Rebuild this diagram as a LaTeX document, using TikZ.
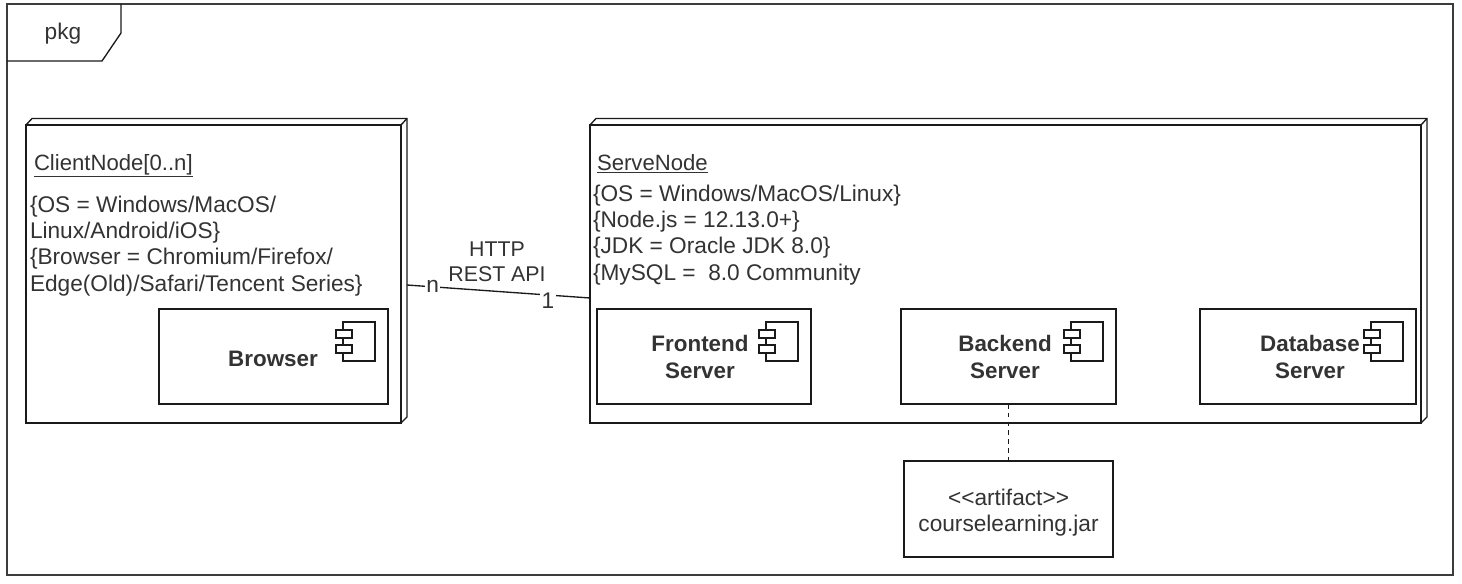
\documentclass[tikz,border=0pt]{standalone}
\usepackage{fontspec}
\setmainfont{Liberation Sans}
\usetikzlibrary{calc}
\definecolor{ink}{HTML}{1A1A1A}
\definecolor{txt}{HTML}{333333}
\tikzset{
  x=0.75pt,y=-0.75pt,
  every node/.style={inner sep=0pt,outer sep=0pt,text=txt,font=\fontsize{17}{19.7}\selectfont},
  line/.style={draw=ink,line width=1pt},
  comp/.style={draw=ink,line width=1pt,minimum width=#1*0.75pt,minimum height=71.25pt,fill=white},
  lbl/.style={align=left,anchor=north west},
  title/.style={font=\fontsize{16.8}{20}\selectfont\bfseries,align=center},
  mult/.style={fill=white,inner sep=1pt},
}
\newcommand{\nodebox}[5]{% name left top right bottom (front face)
  \draw[line,fill=white] (#2,#3) rectangle (#4,#5);
  \draw[line] (#2,#3) -- (#2+6,#3-6.5) -- (#4+6,#3-6.5) -- (#4+6,#5-6) -- (#4,#5);
  \draw[line] (#4,#3) -- (#4+6,#3-6.5);
}
\newcommand{\icon}[2]{% top-left of the icon body
  \draw[line,fill=white] (#1,#2) rectangle (#1+32,#2+39);
  \draw[line,fill=white] (#1-7,#2+8) rectangle (#1+9,#2+16);
  \draw[line,fill=white] (#1-7,#2+23) rectangle (#1+9,#2+31);
}
\begin{document}
\begin{tikzpicture}
\useasboundingbox (0,0) rectangle (1462,584);
\draw[line,draw=ink!85!white,line width=1.1pt] (7,4) rectangle (1453,575);
\draw[line] (7,61) -- (102,61) -- (121,33) -- (121,4);
\node (pkgname) at (63,34) {pkg};

\nodebox{client}{26}{125}{401}{423}
\nodebox{serve}{590}{125}{1421}{423}
\node[minimum width=285.75pt,minimum height=228.75pt] (client) at (216.5,270.5) {};
\node[minimum width=628.5pt,minimum height=228.75pt] (serve) at (1009,270.5) {};

\node[lbl,font=\fontsize{16.6}{19.7}\selectfont] (clientname) at (34,154) {\underline{ClientNode[0..n]}};
\node[lbl] (clientprops) at (30,196) {\{OS = Windows/MacOS/\\Linux/Android/iOS\}\\\{Browser = Chromium/Firefox/\\Edge(Old)/Safari/Tencent Series\}};
\node[lbl,font=\fontsize{16.6}{19.7}\selectfont] (servename) at (597,154) {\underline{ServeNode}};
\node[lbl] (serveprops) at (593,185) {\{OS = Windows/MacOS/Linux\}\\\{Node.js = 12.13.0+\}\\\{JDK = Oracle JDK 8.0\}\\\{MySQL =\ \ 8.0 Community};

\node[comp=229] (browser) at (273.5,356.5) {};
\node[title] (browsername) at (273,359) {Browser};
\icon{343}{322}
\node[comp=214] (frontend) at (704,356.5) {};
\node[title] (frontendname) at (700,357) {Frontend\\Server};
\icon{766}{322}
\node[comp=215] (backend) at (1008.5,356.5) {};
\node[title] (backendname) at (1005,357) {Backend\\Server};
\icon{1071}{322}
\node[comp=216] (database) at (1308,356.5) {};
\node[title] (databasename) at (1310,357) {Database\\Server};
\icon{1371}{322}

\node[draw=ink,line width=1pt,minimum width=156.75pt,minimum height=72pt] (artifact) at (1008.5,509) {};
\node[align=center,font=\fontsize{17}{19.5}\selectfont] (artifactname) at (1008.5,512.5) {<{}<artifact>{}>\\courselearning.jar};

\draw[line] ($(client.east)+(0,14.5)$) -- ($(serve.west)+(0,27.5)$)
  node[pos=0.14,mult] (mn) {n} node[pos=0.77,mult,yshift=-4pt] (mone) {1};
\draw[line,dash pattern=on 3.4pt off 3.2pt] (backend.south) -- (artifact.north);
\node[align=center,font=\fontsize{16}{19}\selectfont] (proto) at (497,262) {HTTP\\REST API};
\end{tikzpicture}
\end{document}
